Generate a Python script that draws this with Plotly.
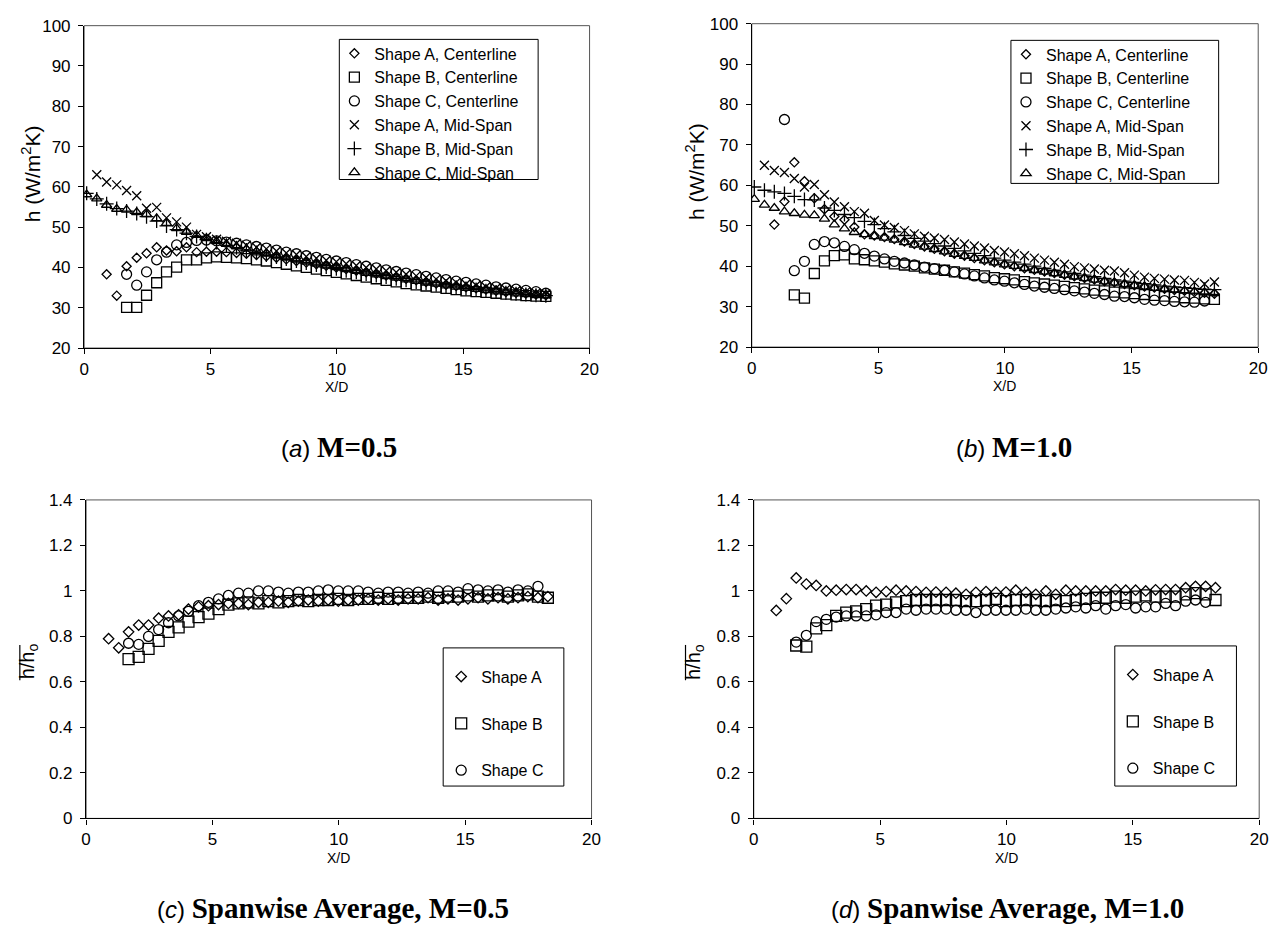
import plotly.graph_objects as go

W, H = 1286, 945

# Shared streamwise stations X/D
XS = [0.10, 0.50, 0.89, 1.29, 1.68, 2.08, 2.47, 2.87, 3.26, 3.66, 4.05, 4.45, 4.84, 5.24, 5.63,
      6.03, 6.42, 6.82, 7.21, 7.61, 8.00, 8.40, 8.79, 9.19, 9.58, 9.98, 10.37, 10.77, 11.16,
      11.56, 11.95, 12.35, 12.74, 13.14, 13.53, 13.93, 14.32, 14.72, 15.11, 15.51, 15.90,
      16.30, 16.69, 17.09, 17.48, 17.88, 18.27]

# ---------- (a) M=0.5, local h ----------
A_CENT_05_START = 2
A_CENT_05 = [38.3, 33.0, 40.3, 42.4, 43.5, 45.0, 44.2, 44.0, 45.0, 43.8, 43.9, 43.9, 43.8, 43.6,
             43.4, 43.1, 42.8, 42.4, 42.0, 41.6, 41.2, 40.8, 40.4, 40.0, 39.6, 39.2, 38.8, 38.4,
             38.0, 37.6, 37.2, 36.8, 36.4, 36.0, 35.7, 35.4, 35.1, 34.8, 34.5, 34.2, 33.9, 33.7,
             33.5, 33.3, 33.1]
B_CENT_05_START = 4
B_CENT_05 = [30.1, 30.1, 33.1, 36.2, 38.9, 40.1, 41.9, 41.9, 42.4, 42.6, 42.5, 42.4, 42.2, 41.9,
             41.6, 41.2, 40.8, 40.4, 40.0, 39.6, 39.2, 38.8, 38.4, 38.0, 37.6, 37.2, 36.8, 36.4,
             36.0, 35.7, 35.4, 35.1, 34.8, 34.5, 34.2, 34.0, 33.8, 33.6, 33.4, 33.2, 33.0, 32.9,
             32.8]
C_CENT_05_START = 4
C_CENT_05 = [38.3, 35.6, 38.9, 41.9, 43.8, 45.6, 46.2, 46.7, 46.8, 46.6, 46.3, 46.0, 45.6, 45.2,
             44.8, 44.3, 43.8, 43.4, 42.9, 42.5, 42.0, 41.6, 41.2, 40.7, 40.3, 39.9, 39.4, 39.0,
             38.6, 38.2, 37.8, 37.4, 37.0, 36.6, 36.3, 35.9, 35.6, 35.2, 34.9, 34.6, 34.3, 34.0,
             33.6]
A_MID_05_START = 1
A_MID_05 = [63.0, 61.2, 60.5, 59.1, 57.8, 54.7, 54.9, 52.3, 51.3, 50.0, 48.2, 47.6, 47.0, 46.5,
            46.0, 45.5, 45.0, 44.6, 44.1, 43.6, 43.2, 42.7, 42.3, 41.8, 41.4, 40.9, 40.5, 40.0,
            39.6, 39.2, 38.8, 38.3, 37.9, 37.5, 37.1, 36.7, 36.3, 35.9, 35.6, 35.2, 34.9, 34.6,
            34.3, 34.0, 33.7, 33.4]
B_MID_05_START = 0
B_MID_05 = [58.4, 57.0, 55.8, 54.6, 54.0, 53.4, 52.6, 51.5, 50.3, 49.4, 48.5, 47.7, 46.9, 46.2,
            45.5, 44.9, 44.3, 43.7, 43.1, 42.6, 42.1, 41.6, 41.1, 40.6, 40.1, 39.7, 39.2, 38.8,
            38.4, 38.0, 37.6, 37.2, 36.8, 36.4, 36.1, 35.7, 35.4, 35.1, 34.8, 34.5, 34.2, 33.9,
            33.7, 33.5, 33.3, 33.1, 33.0]
C_MID_05_START = 0
C_MID_05 = [58.1, 57.1, 55.5, 54.5, 54.3, 53.7, 53.2, 52.2, 51.0, 49.7, 48.8, 48.0, 47.2, 46.5,
            45.8, 45.2, 44.6, 44.0, 43.5, 42.9, 42.4, 41.9, 41.4, 40.9, 40.4, 40.0, 39.5, 39.1,
            38.6, 38.2, 37.8, 37.4, 37.0, 36.6, 36.2, 35.9, 35.5, 35.2, 34.9, 34.6, 34.3, 34.0,
            33.8, 33.5, 33.3, 33.1, 33.0]

# ---------- (b) M=1.0, local h ----------
A_CENT_10_START = 2
A_CENT_10 = [50.3, 56.0, 65.7, 61.0, 56.8, 54.1, 52.3, 51.5, 49.7, 47.9, 47.6, 47.2, 46.7, 46.1,
             45.5, 44.9, 44.3, 43.7, 43.1, 42.6, 42.0, 41.5, 41.0, 40.5, 40.0, 39.5, 39.1, 38.7,
             38.3, 37.9, 37.5, 37.1, 36.7, 36.3, 36.0, 35.6, 35.3, 35.0, 34.7, 34.4, 34.1, 33.9,
             33.6, 33.4, 33.2]
B_CENT_10_START = 4
B_CENT_10 = [32.9, 32.1, 38.2, 41.3, 42.6, 42.8, 41.8, 41.6, 41.3, 41.0, 40.6, 40.3, 40.0, 39.6,
             39.3, 39.0, 38.6, 38.3, 37.9, 37.6, 37.2, 36.9, 36.6, 36.2, 35.9, 35.6, 35.3, 35.0,
             34.7, 34.4, 34.1, 33.9, 33.6, 33.4, 33.2, 33.0, 32.8, 32.6, 32.4, 32.2, 32.1, 31.9,
             31.8]
C_CENT_10_START = 3
C_CENT_10 = [76.3, 38.9, 41.2, 45.4, 46.1, 45.8, 44.9, 44.1, 43.2, 42.5, 41.8, 41.2, 40.8, 40.3,
             39.8, 39.4, 39.0, 38.6, 38.1, 37.6, 37.1, 36.6, 36.3, 35.9, 35.5, 35.1, 34.8, 34.5,
             34.2, 33.9, 33.6, 33.3, 33.0, 32.6, 32.5, 32.2, 31.8, 31.6, 31.5, 31.3, 31.2, 31.1,
             31.4]
A_MID_10_START = 1
A_MID_10 = [65.0, 63.7, 63.2, 61.7, 59.6, 60.2, 57.7, 55.9, 54.7, 53.5, 53.1, 51.3, 50.2, 49.6,
            48.8, 48.0, 47.4, 47.0, 46.6, 46.0, 45.5, 45.0, 44.5, 43.9, 43.5, 43.1, 42.6, 42.0,
            41.5, 41.0, 40.5, 39.9, 39.6, 39.3, 39.0, 38.8, 38.4, 37.8, 37.3, 37.0, 36.8, 36.6,
            36.5, 36.0, 35.6, 36.1]
B_MID_10_START = 0
B_MID_10 = [59.6, 58.8, 58.4, 58.0, 57.3, 56.5, 56.4, 54.4, 53.8, 52.8, 52.0, 51.1, 50.3, 49.3,
            48.5, 47.6, 46.9, 46.2, 45.6, 45.0, 44.4, 43.8, 43.2, 42.6, 42.0, 41.5, 41.0, 40.5,
            40.0, 39.5, 39.0, 38.6, 38.2, 37.8, 37.4, 37.0, 36.6, 36.3, 36.0, 35.7, 35.4, 35.1,
            34.9, 34.7, 34.5, 34.3, 34.2]
C_MID_10_START = 0
C_MID_10 = [56.6, 55.2, 54.4, 53.5, 53.1, 52.7, 52.6, 51.7, 50.3, 49.3, 48.4, 47.9, 47.4, 47.0,
            46.5, 45.9, 45.3, 44.8, 44.2, 43.6, 43.0, 42.5, 42.0, 41.4, 40.9, 40.4, 40.0, 39.5,
            39.0, 38.6, 38.2, 37.8, 37.4, 37.0, 36.6, 36.2, 35.9, 35.5, 35.2, 34.9, 34.6, 34.3,
            34.1, 33.9, 33.7, 33.5, 33.3]

# ---------- (c) spanwise average, M=0.5 ----------
SA_A_05_START = 2
SA_A_05 = [0.79, 0.75, 0.82, 0.85, 0.85, 0.88, 0.89, 0.895, 0.92, 0.93, 0.935, 0.94, 0.945, 0.945,
           0.94, 0.95, 0.95, 0.955, 0.95, 0.955, 0.96, 0.955, 0.96, 0.955, 0.96, 0.96, 0.965, 0.96,
           0.965, 0.96, 0.965, 0.965, 0.97, 0.96, 0.965, 0.96, 0.965, 0.97, 0.965, 0.97, 0.965,
           0.97, 0.975, 0.97, 0.975]
SA_B_05_START = 4
SA_B_05 = [0.70, 0.71, 0.745, 0.78, 0.82, 0.84, 0.865, 0.885, 0.90, 0.92, 0.94, 0.945, 0.95, 0.945,
           0.955, 0.95, 0.955, 0.96, 0.955, 0.96, 0.96, 0.965, 0.96, 0.965, 0.965, 0.97, 0.965,
           0.97, 0.97, 0.97, 0.975, 0.97, 0.975, 0.975, 0.98, 0.975, 0.98, 0.98, 0.975, 0.98,
           0.985, 0.975, 0.97]
SA_C_05_START = 4
SA_C_05 = [0.77, 0.765, 0.80, 0.83, 0.86, 0.89, 0.91, 0.935, 0.95, 0.965, 0.98, 0.99, 0.99, 1.0,
           1.0, 0.995, 0.99, 0.995, 0.995, 1.0, 1.005, 1.0, 1.0, 1.0, 0.995, 0.99, 0.995, 0.995,
           0.99, 0.995, 0.99, 1.0, 1.0, 0.995, 1.01, 1.005, 1.0, 1.005, 0.995, 1.005, 1.0, 1.02]

# ---------- (d) spanwise average, M=1.0 ----------
SA_A_10_START = 2
SA_A_10 = [0.914, 0.966, 1.057, 1.03, 1.024, 1.0, 1.003, 1.006, 1.006, 1.0, 0.994, 0.997, 1.003,
           1.0, 0.997, 0.994, 0.995, 0.994, 0.99, 0.985, 0.994, 0.997, 0.994, 0.995, 1.003, 0.994,
           0.985, 1.0, 0.985, 1.003, 1.0, 1.0, 1.0, 1.0, 1.006, 1.003, 1.003, 1.0, 1.005, 1.006,
           1.006, 1.014, 1.02, 1.02, 1.014]
SA_B_10_START = 4
SA_B_10 = [0.76, 0.755, 0.835, 0.85, 0.89, 0.905, 0.91, 0.92, 0.935, 0.94, 0.95, 0.955, 0.96, 0.96,
           0.96, 0.96, 0.96, 0.955, 0.955, 0.96, 0.965, 0.955, 0.96, 0.96, 0.96, 0.955, 0.96, 0.955,
           0.96, 0.965, 0.97, 0.97, 0.975, 0.97, 0.975, 0.98, 0.975, 0.975, 0.975, 0.985, 0.99,
           0.985, 0.96]
SA_C_10_START = 4
SA_C_10 = [0.775, 0.805, 0.865, 0.875, 0.885, 0.89, 0.89, 0.89, 0.895, 0.905, 0.905, 0.92, 0.915,
           0.92, 0.92, 0.92, 0.915, 0.915, 0.905, 0.915, 0.915, 0.915, 0.915, 0.92, 0.915, 0.915,
           0.92, 0.925, 0.93, 0.925, 0.935, 0.92, 0.935, 0.94, 0.925, 0.93, 0.93, 0.945, 0.935,
           0.955, 0.96, 0.95]

LOCAL_NAMES = ["Shape A, Centerline", "Shape B, Centerline", "Shape C, Centerline",
               "Shape A, Mid-Span", "Shape B, Mid-Span", "Shape C, Mid-Span"]
AVG_NAMES = ["Shape A", "Shape B", "Shape C"]
X_TICKS = [0, 5, 10, 15, 20]
H_TICKS = [20, 30, 40, 50, 60, 70, 80, 90, 100]
R_TICKS = [0, 0.2, 0.4, 0.6, 0.8, 1, 1.2, 1.4]
CAPTIONS = [("a", "M=0.5"), ("b", "M=1.0"), ("c", "Spanwise Average, M=0.5"),
            ("d", "Spanwise Average, M=1.0")]

# ---------------- styling / layout helpers ----------------
SANS = "Liberation Sans, Arial, sans-serif"


def px(x):
    return x / W


def py(y):
    return 1 - y / H


LOCAL_STYLE = [("diamond-open", 7), ("square-open", 10), ("circle-open", 10),
               ("x-thin-open", 9), ("cross-thin-open", 10), ("triangle-up-open", 9)]
AVG_STYLE = [("diamond-open", 8), ("square-open", 11), ("circle-open", 10)]

fig = go.Figure()


def add_series(vals, start, name, style, xa, ya, legend, group=None):
    sym, size = style
    fig.add_trace(go.Scatter(
        x=XS[start:start + len(vals)], y=vals, mode="markers", name=name,
        xaxis=xa, yaxis=ya, legend=legend, legendgroup=group,
        marker=dict(symbol=sym, size=size, color="black",
                    line=dict(color="black", width=1.3)),
        showlegend=True))


panel_a = [(A_CENT_05, A_CENT_05_START), (B_CENT_05, B_CENT_05_START), (C_CENT_05, C_CENT_05_START),
           (A_MID_05, A_MID_05_START), (B_MID_05, B_MID_05_START), (C_MID_05, C_MID_05_START)]
panel_b = [(A_CENT_10, A_CENT_10_START), (B_CENT_10, B_CENT_10_START), (C_CENT_10, C_CENT_10_START),
           (A_MID_10, A_MID_10_START), (B_MID_10, B_MID_10_START), (C_MID_10, C_MID_10_START)]
panel_c = [(SA_A_05, SA_A_05_START), (SA_B_05, SA_B_05_START), (SA_C_05, SA_C_05_START)]
panel_d = [(SA_A_10, SA_A_10_START), (SA_B_10, SA_B_10_START), (SA_C_10, SA_C_10_START)]

for (v, s), n, st in zip(panel_a, LOCAL_NAMES, LOCAL_STYLE):
    add_series(v, s, n, st, "x", "y", "legend")
for (v, s), n, st in zip(panel_b, LOCAL_NAMES, LOCAL_STYLE):
    add_series(v, s, n, st, "x2", "y2", "legend2")
for i, ((v, s), n, st) in enumerate(zip(panel_c, AVG_NAMES, AVG_STYLE)):
    add_series(v, s, n, st, "x3", "y3", "legend3", group="c%d" % i)
for i, ((v, s), n, st) in enumerate(zip(panel_d, AVG_NAMES, AVG_STYLE)):
    add_series(v, s, n, st, "x4", "y4", "legend4", group="d%d" % i)

# plot-area pixel boxes: (left, right, top, bottom)
BOX = {
    "a": (80, 591, 17, 346),
    "b": (755, 1267, 15, 345),
    "c": (82, 593, 501, 826),
    "d": (757, 1268, 501, 826),
}


def xaxis(box):
    l, r, t, b = box
    return dict(domain=[px(l), px(r)], range=[0, 20], tickvals=X_TICKS, ticks="outside",
                ticklen=5, tickwidth=1, tickcolor="black", showline=True, linecolor="black",
                linewidth=1.3, mirror=False, showgrid=False, zeroline=False,
                tickfont=dict(family=SANS, size=17, color="black"), fixedrange=True)


def yaxis(box, rng, ticks):
    l, r, t, b = box
    return dict(domain=[py(b), py(t)], range=rng, tickvals=ticks, ticks="outside",
                ticklen=5, tickwidth=1, tickcolor="black", showline=True, linecolor="black",
                linewidth=1.3, mirror=False, showgrid=False, zeroline=False,
                tickfont=dict(family=SANS, size=17, color="black"), fixedrange=True,
                ticklabelstandoff=4)


def legend(x, y, gap=0):
    return dict(x=px(x), y=py(y), xanchor="left", yanchor="top", bgcolor="rgba(0,0,0,0)",
                borderwidth=0, font=dict(family=SANS, size=16, color="black"),
                tracegroupgap=gap, itemclick=False, itemdoubleclick=False)


shapes = []
# frame (top/right) of each plot area
for k, (l, r, t, b) in BOX.items():
    shapes.append(dict(type="rect", xref="paper", yref="paper", x0=px(l), x1=px(r), y0=py(b),
                       y1=py(t), line=dict(color="#555555", width=1), layer="below"))

# legend boxes
LEG_BOX = {"a": (338, 539, 31, 174), "b": (1017, 1227, 32, 178),
           "c": (443, 565, 652, 793), "d": (1122, 1245, 650, 793)}
for k, (l, r, t, b) in LEG_BOX.items():
    shapes.append(dict(type="rect", xref="paper", yref="paper", x0=px(l), x1=px(r), y0=py(b),
                       y1=py(t), line=dict(color="black", width=1), fillcolor="white",
                       layer="below"))

annotations = []


def note(text, x, y, size, angle=0, family=SANS):
    annotations.append(dict(text=text, x=px(x), y=py(y), xref="paper", yref="paper",
                            xanchor="center", yanchor="middle", showarrow=False,
                            textangle=angle, font=dict(family=family, size=size, color="black")))


# axis titles
note("h (W/m<sup>2</sup>K)", 26, 168, 21, -90)
note("h (W/m<sup>2</sup>K)", 697, 166, 21, -90)
for xc in (24, 697):
    yc = 666
    note("h/h<sub>o</sub>", xc, yc, 20, -90)
    shapes.append(dict(type="line", xref="paper", yref="paper", x0=px(xc - 9), x1=px(xc - 9),
                       y0=py(yc + 19), y1=py(yc - 17), line=dict(color="black", width=1.2)))

for k in "abcd":
    l, r, t, b = BOX[k]
    note("X/D", (l + r) / 2, b + 40, 14)

CAP_POS = {"a": (338, 447), "b": (1020, 447), "c": (332, 917), "d": (1014, 917)}
for letter, body in CAPTIONS:
    cx, cy = CAP_POS[letter]
    txt = ("(<i>%s</i>) <span style='font-family:Liberation Serif, Times New Roman, serif;"
           "font-weight:bold;font-size:29px'>%s</span>") % (letter, body)
    note(txt, cx, cy, 24)

fig.update_layout(
    width=W, height=H, autosize=False, margin=dict(l=0, r=0, t=0, b=0),
    paper_bgcolor="white", plot_bgcolor="white", showlegend=True,
    xaxis=dict(xaxis(BOX["a"]), anchor="y"),
    yaxis=dict(yaxis(BOX["a"], [20, 100], H_TICKS), anchor="x"),
    xaxis2=dict(xaxis(BOX["b"]), anchor="y2"),
    yaxis2=dict(yaxis(BOX["b"], [20, 100], H_TICKS), anchor="x2"),
    xaxis3=dict(xaxis(BOX["c"]), anchor="y3"),
    yaxis3=dict(yaxis(BOX["c"], [0, 1.4], R_TICKS), anchor="x3"),
    xaxis4=dict(xaxis(BOX["d"]), anchor="y4"),
    yaxis4=dict(yaxis(BOX["d"], [0, 1.4], R_TICKS), anchor="x4"),
    legend=legend(333, 28),
    legend2=legend(1012, 29),
    legend3=legend(441, 664, gap=23),
    legend4=legend(1120, 662, gap=23),
    shapes=shapes, annotations=annotations,
)

fig.write_html("out.html")
